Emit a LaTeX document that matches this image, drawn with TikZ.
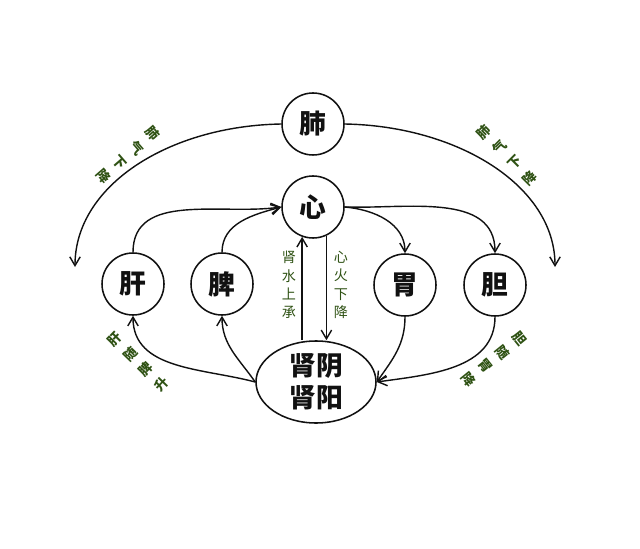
\documentclass[tikz,border=0pt]{standalone}
\usepackage{fontspec}
\newfontfamily\cjk{Noto Sans CJK SC}
\usetikzlibrary{arrows.meta, shapes.geometric, calc}
\definecolor{inkblack}{HTML}{111111}
\definecolor{qigreen}{HTML}{2F5214}

\begin{document}
\begin{tikzpicture}[x=0.25mm, y=0.25mm, >={Straight Barb[length=2.2mm, width=2.6mm]},
  line width=1pt, inkblack,
  organ/.style={circle, draw, line width=1.1pt, minimum size=15.5mm, inner sep=0pt, font=\cjk\bfseries\fontsize{19}{19}\selectfont},
  kidney/.style={ellipse, draw, line width=1.1pt, minimum width=30mm, minimum height=20.5mm, inner sep=0pt, align=center, font=\cjk\bfseries\fontsize{19}{23}\selectfont},
  flowlabel/.style={text=qigreen, align=center, inner sep=0pt, font=\cjk\fontsize{10}{13}\selectfont},
  slantlabel/.style={flowlabel, font=\cjk\bfseries\fontsize{9.5}{15.5}\selectfont}]

% Background
\useasboundingbox[fill=white] (0,0) rectangle (640,548);

% Organs
\node[organ] (fei) at (313,424) {肺};
\node[organ] (xin) at (313,341) {心};
\node[organ] (gan) at (133,264) {肝};
\node[organ] (pi) at (222,264) {脾};
\node[organ] (wei) at (405,263) {胃};
\node[organ] (dan) at (495,263) {胆};
\node[kidney] (shen) at (316,166) {肾阴\\肾阳};

% Lung qi descends on both sides
\coordinate (feiL) at (75,281);
\coordinate (feiR) at (555,281);
\draw[->] (fei.west) .. controls (168,422) and (75,362) .. (feiL);
\draw[->] (fei.east) .. controls (458,422) and (555,362) .. (feiR);

% Liver and spleen rise to the heart
\draw[->] (gan.north) to[out=90, in=188] (xin.west);
\draw[->] (pi.north) to[out=90, in=195] (xin.west);

% Heart down to stomach and gallbladder
\draw[->] (xin.east) to[out=-5, in=90] (wei.north);
\draw[->] (xin.east) to[out=-2, in=90] (dan.north);

% Kidney water rises, heart fire descends
\draw[->] (xin.250 |- shen.north) -- (xin.250);
\draw[->] (xin.295) -- (xin.295 |- shen.north);

% Kidney up to liver and spleen
\draw[->] (shen.west) to[out=165, in=-90] (gan.south);
\draw[->] (shen.west) to[out=125, in=-90] (pi.south);

% Stomach and gallbladder down to kidney
\draw[->] (wei.south) to[out=-90, in=55] (shen.east);
\draw[->] (dan.south) to[out=-90, in=8] (shen.east);

% Labels
\node[slantlabel, rotate=-49] (lblFeiL) at (128,393) {肺\\气\\下\\降};
\node[slantlabel, rotate=45] (lblFeiR) at (507,393) {肺\\气\\下\\降};
\node[slantlabel, rotate=46] (lblGan) at (138,186) {肝\\随\\脾\\升};
\node[slantlabel, rotate=-51] (lblDan) at (494,189) {胆\\随\\胃\\降};
\node[flowlabel] (lblShui) at (289,263) {肾\\水\\上\\承};
\node[flowlabel] (lblHuo) at (341,263) {心\\火\\下\\降};

\end{tikzpicture}
\end{document}
